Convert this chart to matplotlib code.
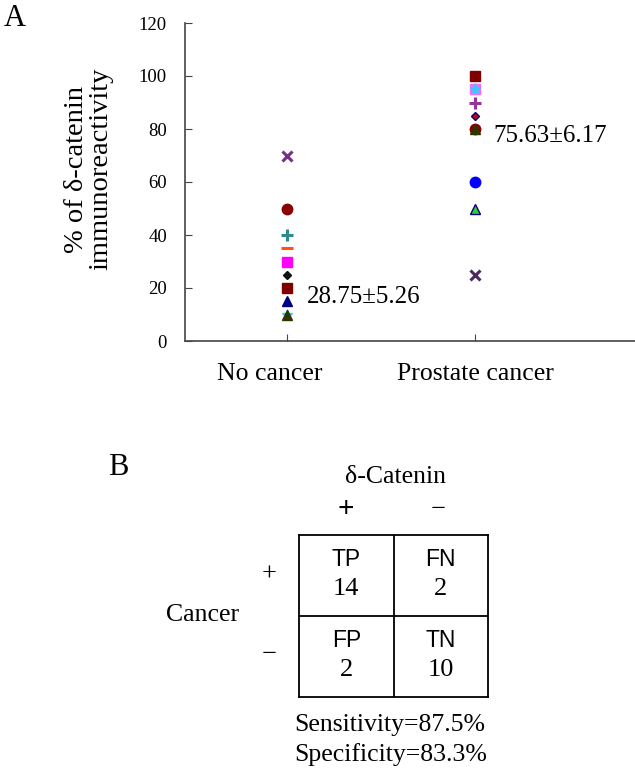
import matplotlib
matplotlib.use('Agg')
import matplotlib.pyplot as plt
import matplotlib.transforms as mtransforms

# ---- data (panel A) ----
groups = ['No cancer', 'Prostate cancer']
no_cancer = [70, 50, 40, 35, 30, 25, 20, 15, 10, 10]
prostate = [100, 95, 95, 90, 85, 80, 80, 60, 50, 25]
summary = ['28.75±5.26', '75.63±6.17']
summary_y = [16.6, 77.5]
y_ticks = [0, 20, 40, 60, 80, 100, 120]

# ---- data (panel B) ----
tp, fn, fp, tn = 14, 2, 2, 10

# marker styles (marker, face, edge)
nc_styles = [
    ('x', '#7B2C8B', '#7B2C8B'),
    ('o', '#8B0000', '#8B0000'),
    ('+', '#2E8B8B', '#2E8B8B'),
    ('_', '#FF5020', '#FF5020'),
    ('s', '#FF00FF', '#FF00FF'),
    ('D', '#111111', '#111111'),
    ('s', '#800000', '#800000'),
    ('^', '#000080', '#000080'),
    ('*', '#33CCFF', '#33CCFF'),
    ('^', '#333300', '#333300'),
]
pc_styles = [
    ('s', '#800000', '#800000'),
    ('s', '#FF66FF', '#FF66FF'),
    ('*', '#33CCFF', '#33CCFF'),
    ('+', '#993399', '#993399'),
    ('D', '#CC0000', '#000080'),
    ('o', '#8B0000', '#8B0000'),
    ('^', '#333300', '#333300'),
    ('o', '#0000FF', '#0000FF'),
    ('^', '#33CC33', '#000080'),
    ('x', '#4B2A5E', '#4B2A5E'),
]
marker_sizes = {'x': 7.5, 'o': 7.5, '+': 8, '_': 9, 's': 7, 'D': 4.5, '^': 7.5, '*': 8}

plt.rcParams['font.family'] = ['Liberation Serif', 'DejaVu Serif']

W, H = 635, 771
fig = plt.figure(figsize=(W / 100, H / 100), dpi=100)


def fx(px):
    return px / W


def fy(py):
    return 1 - py / H


# ---- panel A ----
ax = fig.add_axes([fx(185), fy(341), fx(W) - fx(185), fy(23) - fy(341)])
for x, vals, styles in [(1, no_cancer, nc_styles), (2, prostate, pc_styles)]:
    for v, (m, fc, ec) in zip(vals, styles):
        ax.plot([x], [v], marker=m, markersize=marker_sizes[m],
                markerfacecolor=fc, markeredgecolor=ec,
                markeredgewidth=2.2 if m in 'x+_' else 1, linestyle='none')

ax.set_xlim(0.4574, 2.851)
ax.set_ylim(0, 120)
ax.set_yticks(y_ticks)
ax.set_yticklabels([str(t) for t in y_ticks], fontsize=13.5)
ax.set_xticks([1, 2])
ax.set_xticklabels(groups, fontsize=18.5)
ax.tick_params(axis='y', direction='in', length=5, pad=13, color='#444444')
ax.tick_params(axis='x', direction='in', length=5, pad=16, color='#444444')
for s in ['top', 'right']:
    ax.spines[s].set_visible(False)
for s in ['left', 'bottom']:
    ax.spines[s].set_color('#444444')
    ax.spines[s].set_linewidth(1.2)

# first label sits a little left of its tick
lab = ax.get_xticklabels()[0]
lab.set_transform(lab.get_transform() +
                  mtransforms.ScaledTranslation(-0.17, 0, fig.dpi_scale_trans))

for x, txt, y in zip([1.106, 2.096], summary, summary_y):
    ax.text(x, y, txt, fontsize=18, va='center', ha='left')

ax.set_ylabel('% of δ-catenin\nimmunoreactivity', fontsize=20.5,
              linespacing=1.0)
ax.yaxis.set_label_coords(-0.158, 0.54)

fig.text(fx(4), fy(18), 'A', fontsize=22, va='center', ha='left')
fig.text(fx(108), fy(468), 'B', fontsize=22, va='center', ha='left')

# ---- panel B ----
tb = fig.add_axes([fx(299), fy(697), fx(488) - fx(299), fy(535) - fy(697)])
tb.set_xlim(0, 2)
tb.set_ylim(0, 2)
tb.set_xticks([])
tb.set_yticks([])
for s in tb.spines.values():
    s.set_linewidth(1.3)
tb.axvline(1, color='black', linewidth=1.3)
tb.axhline(1, color='black', linewidth=1.3)

cells = [('TP', tp, 0.5, 1.5), ('FN', fn, 1.5, 1.5),
         ('FP', fp, 0.5, 0.5), ('TN', tn, 1.5, 0.5)]
for name, n, cx, cy in cells:
    tb.text(cx, cy + 0.2, name, fontsize=16.5, family='Liberation Sans',
            ha='center', va='center')
    tb.text(cx, cy - 0.17, str(n), fontsize=19, ha='center', va='center')

fig.text(fx(395), fy(477), 'δ-Catenin', fontsize=18.5, ha='center', va='center')
fig.text(fx(346), fy(510), '+', fontsize=21, ha='center', va='center',
         weight='bold')
fig.text(fx(438), fy(510), '−', fontsize=19, ha='center', va='center')
fig.text(fx(269), fy(575), '+', fontsize=19, ha='center', va='center')
fig.text(fx(269), fy(655), '−', fontsize=19, ha='center', va='center')
fig.text(fx(203), fy(615), 'Cancer', fontsize=18.5, ha='center', va='center')

sens = 100 * tp / (tp + fn)
spec = 100 * tn / (tn + fp)
fig.text(fx(294), fy(725), f'Sensitivity={sens:.1f}%', fontsize=18.5,
         ha='left', va='center')
fig.text(fx(294), fy(755), f'Specificity={spec:.1f}%', fontsize=18.5,
         ha='left', va='center')

fig.savefig('out.png', dpi=100)
